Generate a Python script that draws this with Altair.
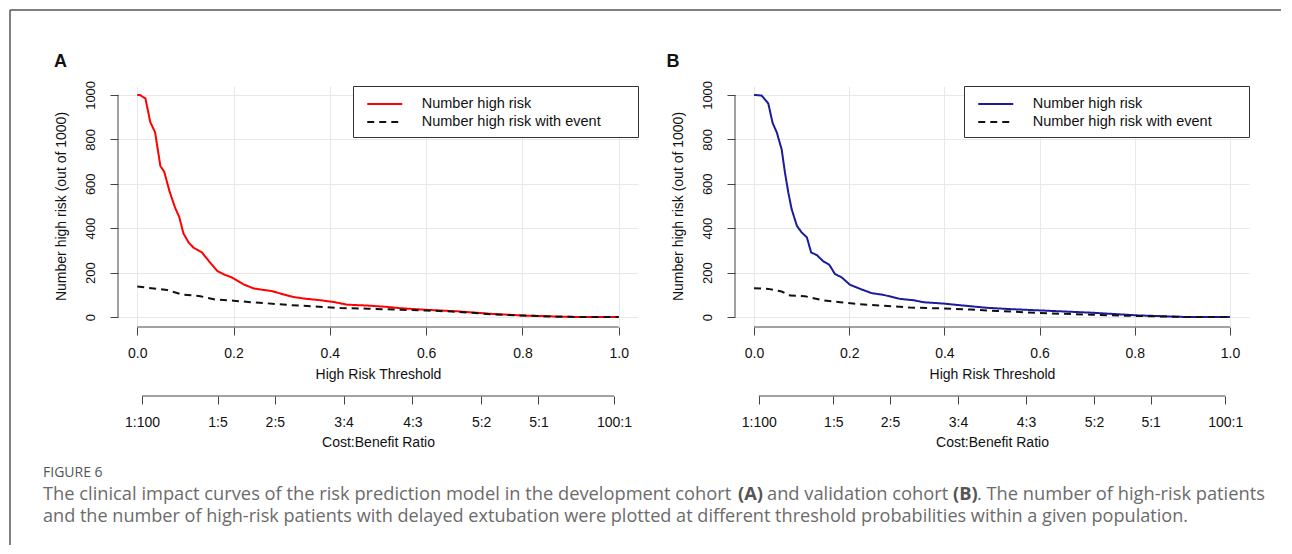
import altair as alt
import pandas as pd

SERIES = ["Number high risk", "Number high risk with event"]

# ---- Panel A (development cohort) ----
a_hr_t = [0.0, 0.005, 0.017, 0.027, 0.037, 0.048, 0.056, 0.067, 0.079, 0.087, 0.096, 0.107,
          0.117, 0.134, 0.148, 0.166, 0.179, 0.197, 0.221, 0.242, 0.263, 0.280, 0.304, 0.325,
          0.353, 0.380, 0.408, 0.436, 0.478, 0.519, 0.547, 0.599, 0.665, 0.734, 0.803, 0.866,
          0.928, 1.0]
a_hr_v = [1000, 1000, 984, 878, 832, 680, 654, 566, 490, 452, 376, 335,
          312, 292, 254, 208, 193, 178, 147, 129, 122, 117, 102, 90,
          82, 76, 68, 56, 52, 46, 40, 33, 26, 15, 7, 3,
          0, 0]
a_ev_t = [0.0, 0.034, 0.062, 0.093, 0.131, 0.162, 0.2, 0.235, 0.270, 0.311, 0.367, 0.422,
          0.478, 0.547, 0.599, 0.665, 0.734, 0.803, 0.866, 0.928, 1.0]
a_ev_v = [138, 129, 122, 102, 94, 79, 74, 67, 62, 55, 48, 41,
          38, 33, 30, 24, 13, 7, 2, 0, 0]

# ---- Panel B (validation cohort) ----
b_hr_t = [0.0, 0.016, 0.030, 0.039, 0.048, 0.058, 0.065, 0.072, 0.079, 0.090, 0.100, 0.111,
          0.120, 0.132, 0.146, 0.158, 0.170, 0.184, 0.202, 0.223, 0.247, 0.272, 0.307, 0.335,
          0.356, 0.398, 0.440, 0.489, 0.538, 0.602, 0.708, 0.804, 0.9, 1.0]
b_hr_v = [1000, 997, 961, 874, 830, 755, 650, 561, 486, 411, 381, 359,
          291, 279, 250, 236, 194, 179, 145, 127, 108, 100, 82, 76,
          67, 61, 52, 42, 36, 30, 20, 8, 1, 0]
b_ev_t = [0.0, 0.03, 0.058, 0.076, 0.107, 0.125, 0.146, 0.181, 0.223, 0.272, 0.328, 0.398,
          0.454, 0.510, 0.602, 0.708, 0.804, 0.9, 1.0]
b_ev_v = [130, 127, 115, 97, 94, 85, 75, 67, 58, 51, 43, 39,
          34, 28, 18, 11, 5, 1, 0]

thr_ticks = [0.0, 0.2, 0.4, 0.6, 0.8, 1.0]
y_ticks = [0, 200, 400, 600, 800, 1000]
ratio_labels = ["1:100", "1:5", "2:5", "3:4", "4:3", "5:2", "5:1", "100:1"]

caption_head = "FIGURE 6"
caption_l1 = ["The clinical impact curves of the risk prediction model in the development cohort",
              "(A)", "and validation cohort", "(B)", ". The number of high-risk patients"]
caption_l1_bold = [False, True, False, True, False]
caption_l1_x = [43, 738, 767, 953, 977]
caption_l2 = ("and the number of high-risk patients with delayed extubation were plotted at "
              "different threshold probabilities within a given population.")

FONT = "Liberation Sans"
CAPFONT = "Open Sans"
AX = "#444444"
GRID = "#e8e8e8"
TXT = "#111111"

# page position of panel A's plot area (used to place the caption and frame)
A_X0, A_Y0 = 118, 86


def ratio_pos(lbl):
    a, b = lbl.split(":")
    return float(a) / (float(a) + float(b))


ratio_vals = [ratio_pos(l) for l in ratio_labels]
label_expr = " : ".join(
    f"abs(datum.value - {v:.6f}) < 0.001 ? '{l}'" for v, l in zip(ratio_vals, ratio_labels)
) + " : ''"


def panel(t_hr, v_hr, t_ev, v_ev, color, letter, W, H, ldx, ldy, extra=()):
    df = pd.DataFrame({
        "t": t_hr + t_ev,
        "v": v_hr + v_ev,
        "series": [SERIES[0]] * len(t_hr) + [SERIES[1]] * len(t_ev),
    })
    xs = alt.Scale(domain=[-0.04, 1.04], nice=False, zero=False)
    ys = alt.Scale(domain=[-40, 1040], nice=False, zero=False)
    leg = alt.Legend(orient="top-right", offset=0, title=None, strokeColor="#333333",
                     fillColor="white", padding=8, symbolType="M-2,0L2,0", symbolSize=306,
                     symbolStrokeWidth=2, symbolOffset=13.75, labelFont=FONT, labelFontSize=14.5,
                     labelColor=TXT, labelOffset=27, labelLimit=0, rowPadding=1,
                     labelExpr="datum.label + '\u2003\u2003\u200b'", cornerRadius=0)
    lines = alt.Chart(df).mark_line(strokeWidth=2).encode(
        x=alt.X("t:Q", scale=xs, axis=alt.Axis(
            orient="bottom", values=thr_ticks, format=".1f", title="High Risk Threshold",
            offset=1, tickSize=8, labelPadding=11, titlePadding=7, grid=True, gridColor=GRID)),
        y=alt.Y("v:Q", scale=ys, axis=alt.Axis(
            orient="left", values=y_ticks, format="d", title="Number high risk (out of 1000)",
            tickSize=8, labelPadding=13, labelAngle=-90, labelAlign="center",
            labelBaseline="bottom", labelFontSize=13, titlePadding=16,
            grid=True, gridColor=GRID)),
        color=alt.Color("series:N", scale=alt.Scale(domain=SERIES, range=[color, "#111111"]),
                        legend=leg),
        strokeDash=alt.StrokeDash("series:N",
                                  scale=alt.Scale(domain=SERIES, range=[[1, 0], [7, 5]]),
                                  legend=leg),
    )
    axdf = pd.DataFrame({"x0": [0.0], "x1": [1.0], "c0": [ratio_vals[0]],
                         "c1": [ratio_vals[-1]], "y0": [0], "y1": [1000], "lab": [letter]})
    xline = alt.Chart(axdf).mark_rule(color=AX, strokeWidth=1).encode(
        x=alt.X("x0:Q", scale=xs, axis=None), x2="x1:Q", y=alt.value(H + 1))
    yline = alt.Chart(axdf).mark_rule(color=AX, strokeWidth=1).encode(
        y=alt.Y("y0:Q", scale=ys, axis=None), y2="y1:Q", x=alt.value(0))
    cline = alt.Chart(axdf).mark_rule(color=AX, strokeWidth=1).encode(
        x=alt.X("c0:Q", scale=xs, axis=alt.Axis(
            orient="bottom", values=ratio_vals, labelExpr=label_expr,
            title="Cost:Benefit Ratio", offset=70, tickSize=8, labelPadding=11,
            titlePadding=6, grid=False)),
        x2="c1:Q", y=alt.value(H + 70))
    lab = alt.Chart(axdf).mark_text(font=FONT, fontSize=18, fontWeight="bold", color=TXT,
                                    align="center", baseline="middle").encode(
        text="lab:N", x=alt.value(ldx), y=alt.value(ldy))
    return alt.layer(lines, xline, yline, cline, lab, *extra).resolve_axis(
        x="independent", y="independent").properties(width=W, height=H)


# caption + figure frame, positioned relative to panel A's plot area
one = pd.DataFrame({"k": [0]})
extra = [
    alt.Chart(one).mark_rule(color="#555555", strokeWidth=1.5).encode(
        x=alt.value(10 - A_X0), y=alt.value(10 - A_Y0), y2=alt.value(545 - A_Y0)),
    alt.Chart(one).mark_rule(color="#555555", strokeWidth=1.5).encode(
        x=alt.value(10 - A_X0), x2=alt.value(1281 - A_X0), y=alt.value(10 - A_Y0)),
    alt.Chart(pd.DataFrame({"txt": [caption_head]})).mark_text(
        font=CAPFONT, fontSize=14, color="#555555", align="left", baseline="alphabetic").encode(
        text="txt:N", x=alt.value(43 - A_X0), y=alt.value(477 - A_Y0)),
    alt.Chart(pd.DataFrame({"txt": [caption_l2]})).mark_text(
        font=CAPFONT, fontSize=18.1, color="#6b6b6b", align="left", baseline="alphabetic").encode(
        text="txt:N", x=alt.value(43 - A_X0), y=alt.value(522 - A_Y0)),
]
for seg, bold, px in zip(caption_l1, caption_l1_bold, caption_l1_x):
    extra.append(
        alt.Chart(pd.DataFrame({"txt": [seg]})).mark_text(
            font=CAPFONT, fontSize=18.3, color="#555555" if bold else "#6b6b6b",
            align="left", baseline="alphabetic",
            fontWeight="bold" if bold else "normal").encode(
            text="txt:N", x=alt.value(px - A_X0), y=alt.value(500 - A_Y0)))

pA = panel(a_hr_t, a_hr_v, a_ev_t, a_ev_v, "#ff0000", "A", 520, 240, 60.5 - A_X0, 61.5 - A_Y0,
           extra)
pB = panel(b_hr_t, b_hr_v, b_ev_t, b_ev_v, "#1b1b9e", "B", 514, 240, 673 - 735, 61.5 - A_Y0)

chart = alt.hconcat(pA, pB, spacing=97, bounds="flush").resolve_scale(
    color="independent", strokeDash="independent"
).properties(
    padding=1
).configure_view(stroke=None).configure_axis(
    labelFont=FONT, labelFontSize=14, labelColor=TXT, titleFont=FONT, titleFontSize=14,
    titleFontWeight="normal", titleColor=TXT, tickColor=AX, tickWidth=1, domain=False
)

chart.save("out.html", embed_options={"renderer": "svg", "actions": False})
